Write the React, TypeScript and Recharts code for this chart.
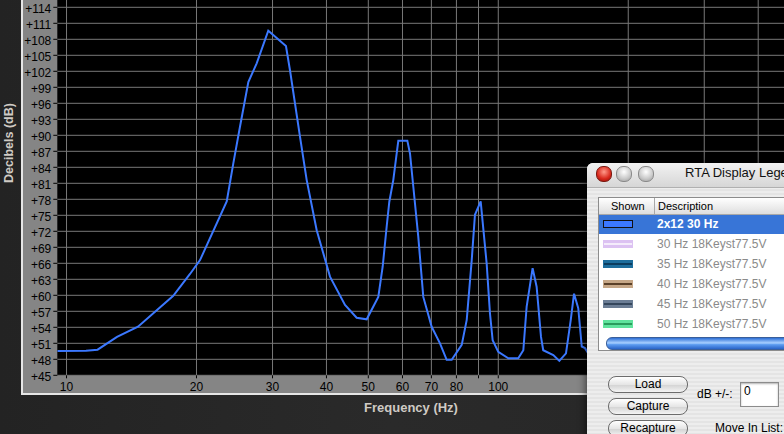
import React from 'react';
import { LineChart, Line, XAxis, YAxis, CartesianGrid } from 'recharts';

const FREQ_HZ = [9.52, 11.1, 11.8, 13.09, 14.64, 17.67, 19.32, 20.38, 23.5, 24.34, 25.22, 26.37, 27.57, 29.33, 32.23, 32.93, 34.74, 36.0, 37.97, 40.76, 44.16, 46.99, 49.57, 52.74, 53.99, 55.15, 55.93, 57.13, 58.68, 61.57, 62.45, 63.56, 65.27, 67.04, 70.11, 73.28, 75.95, 78.01, 82.29, 84.52, 86.8, 88.31, 91.04, 93.99, 95.67, 97.05, 100, 105.5, 111.25, 114.3, 116.35, 120.1, 122.7, 125.6, 127.1, 134.1, 138.5, 143.5, 147.2, 149.8, 153.2, 156.1, 158.8, 163.1];
const LEVEL_DB = [49.56, 49.6, 49.8, 52.2, 54.1, 59.9, 64.0, 66.6, 77.6, 84.75, 91.6, 100.0, 103.5, 109.6, 106.75, 102.2, 89.7, 81.6, 72.2, 63.5, 58.2, 55.8, 55.5, 59.7, 65.4, 72.9, 77.55, 81.6, 89.0, 89.0, 86.6, 80.4, 71.0, 59.7, 54.1, 51.0, 47.9, 47.9, 50.7, 55.4, 66.6, 75.1, 77.6, 66.0, 56.6, 51.6, 49.4, 48.2, 48.2, 49.7, 57.9, 65.1, 61.6, 52.2, 49.7, 48.8, 47.7, 49.1, 55.4, 60.3, 57.6, 50.4, 50.1, 48.6];

const X_TICKS = [10, 20, 30, 40, 50, 60, 70, 80, 90, 100, 200, 300, 400];
const X_LABELED = [10, 20, 30, 40, 50, 60, 70, 80, 100];
const Y_TICKS = [45, 48, 51, 54, 57, 60, 63, 66, 69, 72, 75, 78, 81, 84, 87, 90, 93, 96, 99, 102, 105, 108, 111, 114];

const LEGEND_ROWS = ['2x12 30 Hz', '30 Hz 18Keyst77.5V', '35 Hz 18Keyst77.5V', '40 Hz 18Keyst77.5V', '45 Hz 18Keyst77.5V', '50 Hz 18Keyst77.5V'];
const LEGEND_FILL = ['#3b78ff', '#dcc2f2', '#1d6d9c', '#c6a787', '#6b7d95', '#5fe39c'];
const LEGEND_LINE = ['#3b78ff', '#f4ecfb', '#0b3c5e', '#5a4028', '#34465c', '#2a9c5c'];

const data = FREQ_HZ.map((f, i) => ({ f, db: LEVEL_DB[i] }));

const TICK_FONT = '"Liberation Sans", Arial, sans-serif';

const YTick = (props: any) => {
  const { x, y, payload } = props;
  return (
    <text x={x} y={y} dy={6} textAnchor="end" fill="#000" fontSize={12} fontFamily={TICK_FONT}>
      {'+' + payload.value}
    </text>
  );
};

const XTick = (props: any) => {
  const { x, y, payload } = props;
  if (!X_LABELED.includes(payload.value)) return <g />;
  return (
    <text x={x} y={y} dy={11} textAnchor="middle" fill="#000" fontSize={12} fontFamily={TICK_FONT}>
      {String(payload.value)}
    </text>
  );
};

const Pill = ({ top, label }: { top: number; label: string }) => (
  <div
    style={{
      position: 'absolute', left: 21, top, width: 78, height: 15,
      borderRadius: 8, border: '1px solid #6c6c6c',
      background: 'linear-gradient(#ffffff, #e6e6e6 50%, #d2d2d2 51%, #f4f4f4)',
      fontFamily: TICK_FONT, fontSize: 12, color: '#000', textAlign: 'center', lineHeight: '15px',
    }}
  >
    {label}
  </div>
);

export default function App() {
  return (
    <div style={{ position: 'absolute', left: 0, top: 0, width: 784, height: 434, overflow: 'hidden', background: 'linear-gradient(90deg, #232323, #2a2a2a 50%, #262626)' }}>
      <div style={{ position: 'absolute', left: 21, top: 0, width: 780, height: 393, background: '#858585', borderLeft: '2px solid #e6e6e6', borderBottom: '2px solid #e6e6e6' }} />
      <div
        style={{
          position: 'absolute', left: 9, top: 143, transform: 'translate(-50%, -50%) rotate(-90deg)',
          whiteSpace: 'nowrap', color: '#cfcac4', fontFamily: TICK_FONT, fontWeight: 'bold', fontSize: 12.5,
        }}
      >
        Decibels (dB)
      </div>
      <div
        style={{
          position: 'absolute', left: 411, top: 407, transform: 'translate(-50%, -50%)',
          whiteSpace: 'nowrap', color: '#cfcac4', fontFamily: TICK_FONT, fontWeight: 'bold', fontSize: 13,
        }}
      >
        Frequency (Hz)
      </div>
      <div style={{ position: 'absolute', left: 0, top: 0 }}>
        <LineChart width={784} height={434} data={data} margin={{ top: 0, right: 0, bottom: 0, left: 0 }}>
          <CartesianGrid
            fill="#000"
            fillOpacity={1}
            stroke="#787878"
            strokeWidth={1}
            horizontalValues={Y_TICKS}
            verticalValues={X_TICKS}
          />
          <XAxis
            dataKey="f"
            type="number"
            scale="log"
            domain={[9.52, 459]}
            allowDataOverflow
            ticks={X_TICKS}
            interval={0}
            height={58.7}
            axisLine={false}
            tickSize={3}
            tickMargin={2}
            tickLine={{ stroke: '#000' }}
            tick={<XTick />}
          />
          <YAxis
            type="number"
            domain={[45, 115.37]}
            allowDataOverflow
            ticks={Y_TICKS}
            interval={0}
            width={57.3}
            axisLine={false}
            tickSize={4}
            tickMargin={2}
            tickLine={{ stroke: '#000' }}
            tick={<YTick />}
          />
          <Line type="linear" dataKey="db" stroke="#3b78ff" strokeWidth={2} dot={false} isAnimationActive={false} />
        </LineChart>
      </div>

      <div
        style={{
          position: 'absolute', left: 587, top: 163, width: 240, height: 300,
          borderRadius: '6px 6px 0 0', boxShadow: '0 2px 10px rgba(0,0,0,0.7)',
          background: 'repeating-linear-gradient(#ededed 0px, #ededed 2px, #e4e4e4 2px, #e4e4e4 4px)',
          overflow: 'hidden',
        }}
      >
        <div style={{ position: 'absolute', left: 0, top: 0, width: 240, height: 24, background: 'linear-gradient(#f2f2f2, #d6d6d6)', borderBottom: '1px solid #b0b0b0' }} />
        <div style={{ position: 'absolute', left: 9, top: 3, width: 14, height: 14, borderRadius: 7, background: 'radial-gradient(circle at 50% 35%, #ff9a8a, #d8281c 60%, #8e1008)', border: '1px solid #7a1a12' }} />
        <div style={{ position: 'absolute', left: 29, top: 3, width: 14, height: 14, borderRadius: 7, background: 'radial-gradient(circle at 50% 35%, #ffffff, #c9c9c9 60%, #9a9a9a)', border: '1px solid #8a8a8a' }} />
        <div style={{ position: 'absolute', left: 51, top: 3, width: 14, height: 14, borderRadius: 7, background: 'radial-gradient(circle at 50% 35%, #ffffff, #c9c9c9 60%, #9a9a9a)', border: '1px solid #8a8a8a' }} />
        <div style={{ position: 'absolute', left: 98, top: 2, fontFamily: TICK_FONT, fontSize: 13, color: '#111', whiteSpace: 'nowrap', lineHeight: '16px' }}>
          RTA Display Legend
        </div>

        <div style={{ position: 'absolute', left: 11, top: 34, width: 240, height: 152, background: '#fff', border: '1px solid #8c8c8c' }}>
          <div style={{ position: 'absolute', left: 0, top: 0, width: 240, height: 16, background: 'linear-gradient(#ffffff, #dedede)', borderBottom: '1px solid #a8a8a8' }} />
          <div style={{ position: 'absolute', left: 55, top: 0, width: 1, height: 16, background: '#a8a8a8' }} />
          <div style={{ position: 'absolute', left: 12, top: 1, fontFamily: TICK_FONT, fontSize: 11, color: '#000', lineHeight: '14px' }}>Shown</div>
          <div style={{ position: 'absolute', left: 59, top: 1, fontFamily: TICK_FONT, fontSize: 11, color: '#000', lineHeight: '14px' }}>Description</div>
          {LEGEND_ROWS.map((r, i) => (
            <React.Fragment key={r}>
              {i === 0 && <div style={{ position: 'absolute', left: 0, top: 17, width: 240, height: 19, background: '#3875d7' }} />}
              <div
                style={{
                  position: 'absolute', left: 4, top: 22 + i * 20, width: 28, height: 6,
                  background: LEGEND_FILL[i], border: i === 0 ? '1px solid #111' : '1px solid ' + LEGEND_FILL[i],
                }}
              >
                {i > 0 && <div style={{ position: 'absolute', left: 0, top: 2, width: 28, height: 1.5, background: LEGEND_LINE[i] }} />}
              </div>
              <div
                style={{
                  position: 'absolute', left: 58, top: 19 + i * 20, fontFamily: TICK_FONT, fontSize: 12,
                  lineHeight: '15px', whiteSpace: 'nowrap',
                  color: i === 0 ? '#fff' : '#8a8a8a', fontWeight: i === 0 ? 'bold' : 'normal',
                }}
              >
                {r}
              </div>
            </React.Fragment>
          ))}
          <div
            style={{
              position: 'absolute', left: 7, top: 139, width: 240, height: 11, borderRadius: 6,
              background: 'linear-gradient(#2d6fd6, #a9d0ff 45%, #5d9cf0 60%, #2a64c8)', border: '1px solid #3a5f9a',
            }}
          />
        </div>

        <Pill top={213} label="Load" />
        <Pill top={235} label="Capture" />
        <Pill top={257} label="Recapture" />
        <div style={{ position: 'absolute', left: 110, top: 224, fontFamily: TICK_FONT, fontSize: 12, color: '#000', whiteSpace: 'nowrap', lineHeight: '15px' }}>dB +/-:</div>
        <div style={{ position: 'absolute', left: 153, top: 219, width: 37, height: 23, background: '#fff', border: '1px solid #8c8c8c', boxShadow: 'inset 0 1px 2px rgba(0,0,0,0.3)' }}>
          <div style={{ position: 'absolute', left: 3, top: 1, fontFamily: TICK_FONT, fontSize: 12, color: '#000', lineHeight: '14px' }}>0</div>
        </div>
        <div style={{ position: 'absolute', left: 128, top: 258, fontFamily: TICK_FONT, fontSize: 12, color: '#000', whiteSpace: 'nowrap', lineHeight: '15px' }}>Move In List:</div>
      </div>
    </div>
  );
}
